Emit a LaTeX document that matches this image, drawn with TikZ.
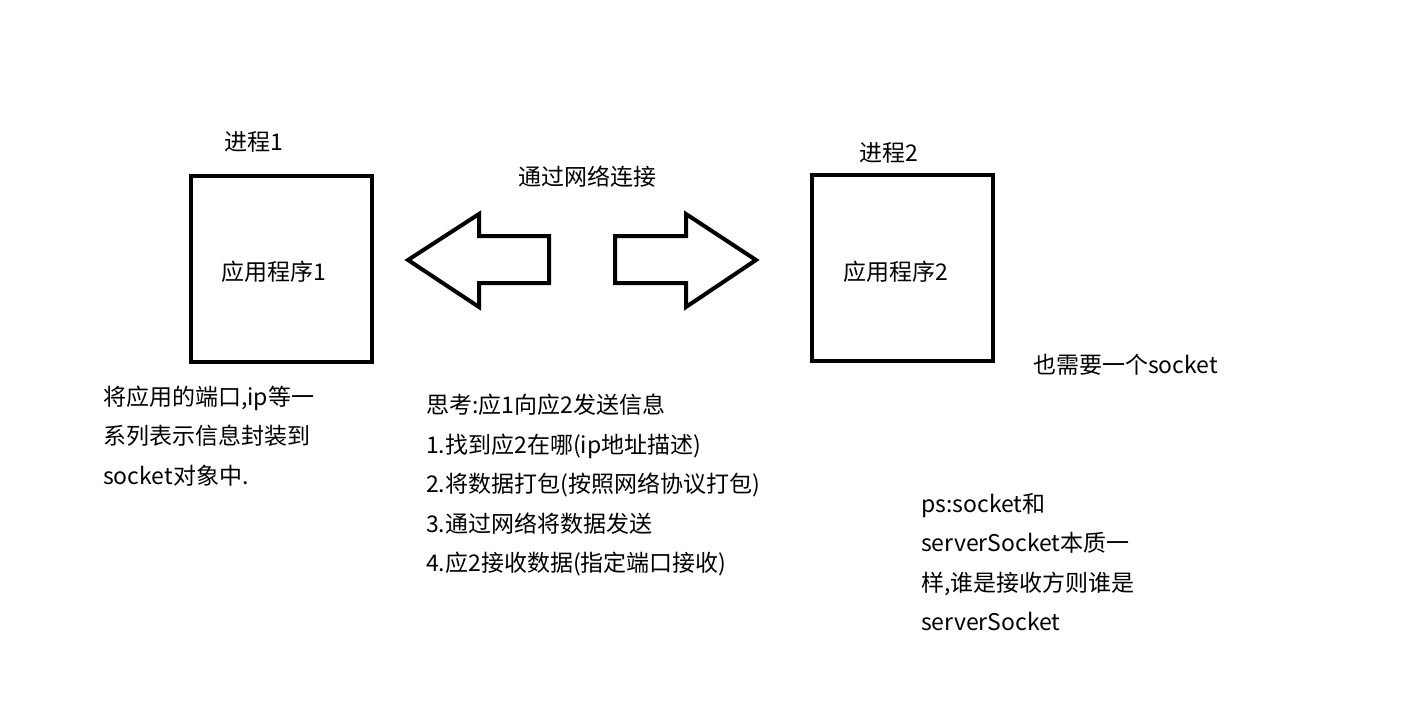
\documentclass[tikz,border=0pt]{standalone}
\usepackage{fontspec}
\setmainfont{Noto Sans CJK SC}
\usetikzlibrary{positioning}

\tikzset{
    procbox/.style={draw, line width=4pt, minimum width=181pt, minimum height=186pt, inner sep=0pt},
    lbl/.style={inner sep=0pt, font=\fontsize{23}{39.5}\selectfont},
    note/.style={lbl, align=left, anchor=west},
    bigarrow/.style={draw, line width=4pt, line join=miter}
}

\begin{document}
\begin{tikzpicture}[x=1pt, y=-1pt]
    \useasboundingbox (0,0) rectangle (1406,710);

    \node[procbox] (p1) at (281.5,269) {};
    \node[procbox] (p2) at (902,268) {};
    \node[lbl] (app1) at (274,272) {应用程序1};
    \node[lbl] (app2) at (896,272) {应用程序2};
    \node[lbl] (t1) at (254,142) {进程1};
    \node[lbl] (t2) at (889,153) {进程2};
    \node[lbl] (net) at (587,177) {通过网络连接};

    % arrows
    \draw[bigarrow] (408,260) -- (479,214) -- (479,236) -- (549,236) -- (549,283) -- (479,283) -- (479,307) -- cycle;
    \draw[bigarrow] (756,260) -- (686,214) -- (686,236) -- (615,236) -- (615,283) -- (686,283) -- (686,307) -- cycle;

    \node[note] (n1) at (103,436) {将应用的端口,ip等一\\系列表示信息封装到\\socket对象中.};
    \node[note] (n2) at (426,485) {思考:应1向应2发送信息\\1.找到应2在哪(ip地址描述)\\2.将数据打包(按照网络协议打包)\\3.通过网络将数据发送\\4.应2接收数据(指定端口接收)};
    \node[note] (n3) at (1033,365) {也需要一个socket};
    \node[note] (n4) at (921,562) {ps:socket和\\serverSocket本质一\\样,谁是接收方则谁是\\serverSocket};
\end{tikzpicture}
\end{document}
